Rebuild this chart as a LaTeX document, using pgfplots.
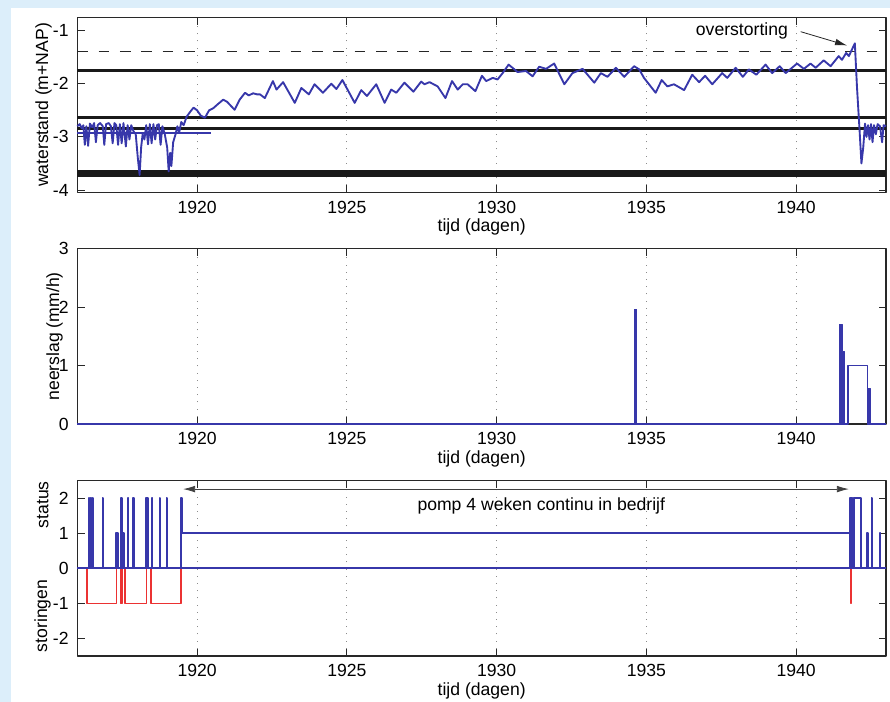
\documentclass[border=0pt]{standalone}
\usepackage{fontspec}
\setmainfont{Liberation Sans}
\usepackage{pgfplots}
\pgfplotsset{compat=1.18}
\usetikzlibrary{arrows.meta}
\definecolor{bgblue}{RGB}{220,238,250}
\definecolor{mblue}{RGB}{55,55,170}
\definecolor{mred}{RGB}{235,50,50}
\definecolor{axgray}{RGB}{40,40,40}
\pgfplotsset{
 mystyle/.style={
  scale only axis, width=606.5pt, height=131.5pt,
  xmin=1916, xmax=1943,
  xtick={1920,1925,1930,1935,1940},
  xticklabels={1920,1925,1930,1935,1940},
  /pgf/number format/assume math mode=true,
  xmajorgrids, major grid style={gray!90, line width=0.7pt, dash pattern=on 0.8pt off 4.6pt},
  tick align=inside, major tick length=5.5pt,
  tick style={axgray, line width=0.6pt},
  axis line style={axgray, line width=0.8pt},
  font=\fontsize{13.2}{15}\selectfont,
  xlabel={tijd (dagen)},
  xlabel style={at={(axis description cs:0.5,0)}, anchor=center, yshift=-26pt},
  xticklabel style={yshift=-3pt},
  yticklabel style={xshift=-3pt},
  clip=false,
  line join=round,
 }
}
\begin{document}
\begin{tikzpicture}
\path[use as bounding box] (0,0) rectangle (667.5pt,526.5pt);
\fill[bgblue] (0,0) rectangle (667.5pt,526.5pt);
\fill[white] (8.25pt,0) rectangle (667.5pt,520.5pt);

% ---------------- top: waterstand
\begin{axis}[mystyle, at={(58pt,382pt)}, anchor=south west,
  ymin=-4.05, ymax=-0.75, ytick={-4,-3,-2,-1}]
\addplot[black!90, line width=2.5pt] coordinates {(1916,-1.745) (1943,-1.745)};
\addplot[black!90, line width=2.5pt] coordinates {(1916,-2.64) (1943,-2.64)};
\addplot[black!90, line width=2.5pt] coordinates {(1916,-2.845) (1943,-2.845)};
\addplot[black!90, line width=2.5pt] coordinates {(1916,-3.656) (1943,-3.656)};
\addplot[black!90, line width=2.5pt] coordinates {(1916,-3.72) (1943,-3.72)};
\addplot[black!85, line width=1.2pt, dash pattern=on 8pt off 8pt] coordinates {(1916,-1.395) (1943,-1.395)};
\addplot[mblue, line width=1.2pt] coordinates {(1916,-2.93) (1920.45,-2.93)};
\addplot[mblue, line width=1.4pt] coordinates {
(1916.00,-2.80) (1916.08,-2.76) (1916.15,-2.84) (1916.20,-2.78) (1916.25,-3.15) (1916.30,-2.80)
(1916.36,-3.17) (1916.42,-2.75) (1916.50,-2.82) (1916.56,-2.74) (1916.62,-3.10) (1916.68,-2.78)
(1916.76,-2.74) (1916.85,-2.80) (1916.90,-3.15) (1916.96,-2.76) (1917.05,-2.74) (1917.12,-2.80)
(1917.18,-3.12) (1917.24,-2.74) (1917.30,-2.78) (1917.36,-3.15) (1917.42,-2.76) (1917.48,-3.12)
(1917.54,-2.74) (1917.62,-3.18) (1917.68,-2.78) (1917.74,-3.05) (1917.80,-2.78) (1917.88,-2.90)
(1917.95,-2.95) (1918.02,-3.40) (1918.08,-3.72) (1918.13,-3.20) (1918.18,-2.95) (1918.24,-3.05)
(1918.30,-2.78) (1918.36,-3.14) (1918.42,-2.76) (1918.48,-3.12) (1918.54,-2.76) (1918.60,-3.05)
(1918.66,-2.78) (1918.72,-2.76) (1918.78,-3.15) (1918.84,-2.80) (1918.92,-2.95) (1919.00,-3.20)
(1919.05,-3.65) (1919.10,-3.30) (1919.14,-3.55) (1919.20,-3.10) (1919.28,-2.95) (1919.34,-2.80)
(1919.40,-2.92) (1919.47,-2.72) (1919.55,-2.78) (1919.65,-2.62) (1919.78,-2.52) (1919.88,-2.45)
(1920.00,-2.50) (1920.12,-2.60) (1920.26,-2.64) (1920.40,-2.50) (1920.54,-2.46) (1920.70,-2.38)
(1920.87,-2.30) (1921.00,-2.34) (1921.10,-2.40) (1921.25,-2.49) (1921.42,-2.30) (1921.60,-2.17)
(1921.72,-2.22) (1921.87,-2.18) (1922.00,-2.20) (1922.10,-2.20) (1922.26,-2.27) (1922.53,-1.95)
(1922.65,-2.11) (1922.87,-1.97) (1923.26,-2.36) (1923.48,-2.08) (1923.73,-2.20) (1923.92,-2.01)
(1924.20,-2.17) (1924.48,-2.00) (1924.65,-2.10) (1924.85,-1.93) (1925.26,-2.36) (1925.48,-2.12)
(1925.67,-2.23) (1925.98,-2.01) (1926.26,-2.36) (1926.48,-2.11) (1926.65,-2.17) (1926.92,-1.98)
(1927.22,-2.15) (1927.48,-1.96) (1927.59,-2.01) (1927.76,-1.97) (1928.03,-2.05) (1928.29,-2.27)
(1928.51,-1.95) (1928.70,-2.11) (1928.87,-2.01) (1929.03,-2.01) (1929.29,-2.14) (1929.51,-1.85)
(1929.65,-1.95) (1929.87,-1.89) (1930.03,-1.92) (1930.20,-1.80) (1930.40,-1.64) (1930.53,-1.70)
(1930.70,-1.78) (1930.98,-1.76) (1931.20,-1.86) (1931.42,-1.68) (1931.65,-1.72) (1931.92,-1.62)
(1932.26,-2.01) (1932.53,-1.80) (1932.87,-1.72) (1933.26,-1.98) (1933.48,-1.80) (1933.70,-1.87)
(1933.98,-1.70) (1934.26,-1.87) (1934.59,-1.67) (1934.76,-1.73) (1934.92,-1.89) (1935.31,-2.17)
(1935.51,-1.93) (1935.70,-2.05) (1935.92,-2.01) (1936.26,-2.12) (1936.53,-1.83) (1936.76,-1.97)
(1936.96,-1.85) (1937.20,-2.01) (1937.53,-1.80) (1937.70,-1.89) (1937.98,-1.70) (1938.22,-1.87)
(1938.42,-1.73) (1938.67,-1.83) (1938.98,-1.64) (1939.20,-1.80) (1939.45,-1.67) (1939.65,-1.80)
(1940.03,-1.62) (1940.26,-1.72) (1940.48,-1.62) (1940.65,-1.70) (1940.92,-1.56) (1941.15,-1.67)
(1941.42,-1.48) (1941.53,-1.55) (1941.67,-1.42) (1941.76,-1.48) (1941.96,-1.24) (1942.03,-2.05)
(1942.12,-2.90) (1942.18,-3.50) (1942.24,-3.20) (1942.30,-2.75) (1942.35,-3.00) (1942.40,-2.78)
(1942.45,-3.05) (1942.50,-2.76) (1942.55,-3.10) (1942.60,-2.78) (1942.66,-2.95) (1942.72,-2.76)
(1942.80,-2.80) (1942.87,-3.10) (1942.92,-2.78) (1943.00,-2.80)
};
\node[rotate=90, anchor=center] at ([xshift=-25.4pt]axis cs:1916,-2.4) {waterstand (m+NAP)};
\node[anchor=center] at (axis cs:1938.19,-1.0) {overstorting};
\draw[-{Latex[length=9pt,width=5pt]}, line width=0.6pt, black!85] (axis cs:1940.15,-1.02) -- (axis cs:1941.70,-1.28);
\end{axis}

% ---------------- middle: neerslag
\begin{axis}[mystyle, at={(58pt,208.5pt)}, anchor=south west,
  ymin=0, ymax=3, ytick={0,1,2,3}]
\addplot[draw=mblue, fill=mblue, line width=0.5pt] coordinates {(1934.59,0) (1934.59,1.97) (1934.68,1.97) (1934.68,0)};
\addplot[draw=mblue, fill=mblue, line width=0.5pt] coordinates {(1941.45,0) (1941.45,1.70) (1941.54,1.70) (1941.54,1.24) (1941.62,1.24) (1941.62,0)};
\addplot[draw=mblue, fill=mblue, line width=0.5pt] coordinates {(1942.41,0) (1942.41,0.61) (1942.47,0.61) (1942.47,0)};
\addplot[mblue, line width=1.4pt] coordinates {(1916,0) (1941.73,0) (1941.73,1.0) (1942.38,1.0) (1942.38,0) (1943,0)};
\node[rotate=90, anchor=center] at ([xshift=-17.1pt]axis cs:1916,1.5) {neerslag (mm/h)};
\end{axis}

% ---------------- bottom: status / storingen
\begin{axis}[mystyle, at={(58pt,34.5pt)}, anchor=south west,
  ymin=-2.5, ymax=2.5, ytick={-2,-1,0,1,2}]
\addplot[mred, line width=1.3pt] coordinates {
(1916.00,0) (1916.33,0) (1916.33,-1) (1917.31,-1) (1917.31,0) (1917.44,0) (1917.44,-1) (1917.50,-1)
(1917.50,0) (1917.60,0) (1917.60,-1) (1918.31,-1) (1918.31,0) (1918.45,0) (1918.45,-1) (1919.47,-1)
(1919.47,0) (1941.82,0) (1941.82,-1) (1941.84,-1) (1941.84,0) (1943,0)
};
\addplot[mblue, line width=1.4pt] coordinates {(1916,0) (1943,0)};
\addplot[mblue, line width=1.3pt] coordinates {
(1916.00,0) (1916.38,0) (1916.38,2) (1916.41,2) (1916.41,0) (1916.44,0) (1916.44,2) (1916.47,2) (1916.47,0)
(1916.51,0) (1916.51,2) (1916.53,2) (1916.53,0)
(1916.84,0) (1916.84,2) (1916.86,2) (1916.86,0)
(1917.30,0) (1917.30,1) (1917.37,1) (1917.37,0)
(1917.47,0) (1917.47,2) (1917.49,2) (1917.49,0) (1917.52,0) (1917.52,1) (1917.55,1) (1917.55,0)
(1917.69,0) (1917.69,2) (1917.71,2) (1917.71,0)
(1917.86,0) (1917.86,2) (1917.88,2) (1917.88,0)
(1918.30,0) (1918.30,2) (1918.32,2) (1918.32,0) (1918.34,0) (1918.34,2) (1918.36,2) (1918.36,0)
(1918.49,0) (1918.49,2) (1918.51,2) (1918.51,0)
(1918.75,0) (1918.75,2) (1918.77,2) (1918.77,0)
(1918.98,0) (1918.98,2) (1919.00,2) (1919.00,0)
(1919.47,0) (1919.47,2) (1919.49,2) (1919.49,1)
(1941.79,1) (1941.79,0) (1941.80,0) (1941.80,2) (1941.815,2) (1941.815,0) (1941.83,0) (1941.83,2)
(1941.845,2) (1941.845,0) (1941.86,0) (1941.86,2) (1941.875,2) (1941.875,0) (1941.89,0) (1941.89,2)
(1941.905,2) (1941.905,0)
(1941.92,0) (1941.92,2) (1942.17,2) (1942.17,0)
(1942.37,0) (1942.37,1) (1942.39,1) (1942.39,0)
(1942.52,0) (1942.52,2) (1942.54,2) (1942.54,0)
(1942.80,0) (1942.80,1) (1942.82,1) (1942.82,0)
(1943.00,0)
};
\draw[{Latex[length=9pt,width=5pt]}-{Latex[length=9pt,width=5pt]}, line width=0.6pt, black!75] (axis cs:1919.53,2.26) -- (axis cs:1941.76,2.26);
\node[anchor=center] at (axis cs:1931.49,1.79) {pomp 4 weken continu in bedrijf};
\node[rotate=90, anchor=center] at ([xshift=-26pt]axis cs:1916,1.81) {status};
\node[rotate=90, anchor=center] at ([xshift=-26pt]axis cs:1916,-1.36) {storingen};
\end{axis}
\end{tikzpicture}
\end{document}
